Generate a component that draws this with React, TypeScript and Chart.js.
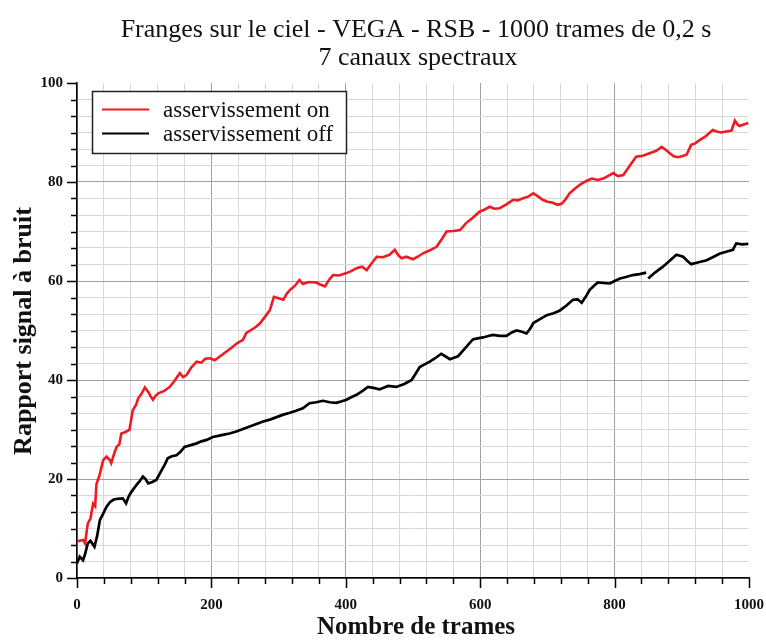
import React, { useEffect, useRef } from 'react';
import { Chart, registerables } from 'chart.js';

Chart.register(...registerables);

const titleLines = ['Franges sur le ciel - VEGA - RSB - 1000 trames de 0,2 s', '7 canaux spectraux'];
const xAxisTitle = 'Nombre de trames';
const yAxisTitle = 'Rapport signal à bruit';
const seriesNames = ['asservissement on', 'asservissement off'];
const seriesColors = ['#f01a22', '#000000'];

const xTickLabels = [0, 200, 400, 600, 800, 1000];
const yTickLabels = [0, 20, 40, 60, 80, 100];
const xMinorPerMajor = 5;
const yMinorPerMajor = 6;

const onFrames = [
  0, 9, 12, 16, 20, 24, 27, 29, 33, 39, 44, 49, 51, 55, 59, 63, 66, 72, 78, 83, 88, 91, 96, 101, 106, 110, 113, 117,
  121, 130, 138, 145, 153, 158, 163, 170, 178, 185, 191, 198, 205, 212, 222, 230, 238, 247, 252, 259, 265, 272, 280,
  287, 293, 300, 307, 312, 317, 324, 331, 336, 345, 356, 362, 369, 375, 381, 390, 401, 408, 416, 424, 431, 438, 446,
  455, 465, 473, 478, 483, 490, 500, 507, 515, 525, 535, 543, 550, 560, 570, 579, 589, 599, 606, 614, 621, 629, 639,
  649, 656, 664, 672, 679, 686, 693, 700, 708, 715, 721, 727, 733, 742, 751, 758, 766, 775, 783, 790, 798, 805, 813,
  822, 832, 842, 852, 862, 870, 876, 882, 888, 894, 900, 907, 914, 920, 927, 936, 946, 952, 959, 966, 974, 979, 983,
  986, 992, 999,
];
const onValues = [
  7.4, 7.7, 7.0, 11, 12, 15, 14.5, 19, 20.5, 23.8, 24.5, 23.8, 23.2, 25, 26.5, 27, 29.2, 29.5, 29.9, 33.9, 35, 36.3,
  37.2, 38.5, 37.6, 36.6, 36, 36.8, 37.3, 37.8, 38.6, 39.8, 41.4, 40.6, 41, 42.5, 43.7, 43.5, 44.3, 44.4, 44, 44.7,
  45.7, 46.5, 47.4, 48.1, 49.5, 50.1, 50.6, 51.4, 52.8, 54.1, 56.8, 56.5, 56.2, 57.4, 58.2, 59, 60.2, 59.4, 59.8,
  59.7, 59.3, 58.9, 60.2, 61.2, 61.1, 61.6, 62, 62.6, 62.9, 62.2, 63.5, 64.9, 64.8, 65.3, 66.3, 65.2, 64.6, 64.9,
  64.4, 64.9, 65.6, 66.2, 66.9, 68.5, 70, 70.1, 70.3, 71.7, 72.8, 74, 74.4, 75, 74.6, 74.7, 75.5, 76.4, 76.3, 76.7,
  77.1, 77.7, 77.1, 76.4, 76.0, 75.8, 75.4, 75.6, 76.5, 77.7, 78.8, 79.7, 80.2, 80.7, 80.4, 80.7, 81.2, 81.8, 81.2,
  81.4, 83.2, 85.1, 85.3, 85.8, 86.3, 87.1, 86.5, 85.8, 85.2, 85, 85.2, 85.5, 87.5, 87.8, 88.5, 89.3, 90.5, 90.2, 90,
  90.2, 90.4, 92.4, 91.6, 91.3, 91.6, 91.9,
];

// null marks the small break visible in the "off" trace
const offFrames = [
  0, 4, 9, 12, 16, 20, 26, 30, 34, 39, 44, 49, 54, 60, 68, 73, 77, 81, 88, 93, 98, 102, 106, 112, 118, 122, 126, 131,
  135, 141, 148, 154, 160, 168, 178, 185, 193, 202, 210, 217, 227, 237, 247, 257, 267, 277, 287, 297, 307, 317, 326,
  336, 346, 356, 366, 376, 386, 394, 401, 408, 416, 425, 433, 441, 450, 463, 475, 487, 498, 505, 510, 518, 525, 533,
  542, 548, 555, 561, 567, 578, 589, 596, 604, 612, 619, 629, 639, 647, 654, 661, 669, 675, 679, 689, 699, 709, 718,
  728, 738, 745, 751, 757, 763, 769, 775, 783, 793, 800, 808, 817, 827, 837, 847, 848, 850, 860, 872, 882, 892, 902,
  908, 914, 925, 937, 946, 956, 966, 976, 981, 990, 999,
];
const offValues = [
  3, 4.3, 3.6, 4.8, 7, 7.5, 6.3, 8.5, 11.7, 13, 14.4, 15.3, 15.8, 16, 16.1, 15.1, 16.5, 17.4, 18.7, 19.5, 20.5, 20,
  19.1, 19.4, 19.8, 20.8, 21.8, 23, 24.2, 24.6, 24.8, 25.5, 26.5, 26.8, 27.2, 27.6, 27.9, 28.5, 28.7, 28.9, 29.2,
  29.6, 30.1, 30.6, 31.1, 31.6, 32, 32.5, 33, 33.4, 33.8, 34.3, 35.3, 35.5, 35.8, 35.5, 35.4, 35.7, 36, 36.5, 37,
  37.8, 38.6, 38.4, 38.1, 38.8, 38.6, 39.2, 40, 41.5, 42.6, 43.2, 43.7, 44.4, 45.3, 44.8, 44.2, 44.5, 44.8, 46.5,
  48.2, 48.4, 48.6, 48.9, 49.1, 48.9, 48.9, 49.6, 50, 49.8, 49.4, 50.5, 51.5, 52.3, 53.1, 53.5, 54, 55, 56.2, 56.3,
  55.6, 56.8, 58.2, 59, 59.7, 59.6, 59.5, 60, 60.5, 60.8, 61.2, 61.4, 61.7, null, 60.5, 61.7, 62.9, 64.1, 65.3, 64.9,
  64.1, 63.4, 63.8, 64.2, 64.8, 65.5, 65.9, 66.3, 67.6, 67.4, 67.5,
];

const isIn = (v: number, arr: number[]) => arr.some((a) => Math.abs(a - v) < 1e-6);

const SERIF = '"Liberation Serif", "Times New Roman", serif';

export default function App() {
  const canvasRef = useRef<HTMLCanvasElement | null>(null);

  useEffect(() => {
    document.body.style.margin = '0';
    const canvas = canvasRef.current;
    if (!canvas) return;

    const xMajorStep = xTickLabels[1] - xTickLabels[0];
    const yMajorStep = yTickLabels[1] - yTickLabels[0];
    const xMin = xTickLabels[0];
    const xMax = xTickLabels[xTickLabels.length - 1];
    const yMin = yTickLabels[0];
    const yMax = yTickLabels[yTickLabels.length - 1];
    const xTickValues: number[] = [];
    for (let i = 0; i <= (xTickLabels.length - 1) * xMinorPerMajor; i++) xTickValues.push(xMin + (i * xMajorStep) / xMinorPerMajor);
    const yTickValues: number[] = [];
    for (let i = 0; i <= (yTickLabels.length - 1) * yMinorPerMajor; i++) yTickValues.push(yMin + (i * yMajorStep) / yMinorPerMajor);

    const gridColor = (labels: number[], max: number) => (ctx: any) => {
      const v = ctx.tick ? ctx.tick.value : null;
      if (v == null) return 'rgba(0,0,0,0)';
      if (Math.abs(v - max) < 1e-6) return 'rgba(0,0,0,0)';
      return isIn(v, labels) ? '#a0a0a0' : '#d8d8d8';
    };

    const decorPlugin = {
      id: 'decor',
      afterDraw(chart: any) {
        const { ctx, chartArea, scales } = chart;
        const xs = scales.x;
        const ys = scales.y;
        ctx.save();
        // tick marks
        ctx.strokeStyle = '#000';
        ctx.lineWidth = 1.5;
        ctx.beginPath();
        for (const t of ys.ticks) {
          const py = Math.round(ys.getPixelForValue(t.value)) + 0.5;
          const len = isIn(t.value, yTickLabels) ? 10 : 6;
          ctx.moveTo(chartArea.left - len, py);
          ctx.lineTo(chartArea.left, py);
        }
        for (const t of xs.ticks) {
          const px = Math.round(xs.getPixelForValue(t.value)) + 0.5;
          const len = isIn(t.value, xTickLabels) ? 10 : 6;
          ctx.moveTo(px, chartArea.bottom);
          ctx.lineTo(px, chartArea.bottom + len);
        }
        ctx.stroke();

        // title
        ctx.fillStyle = '#111';
        ctx.textAlign = 'center';
        ctx.textBaseline = 'alphabetic';
        ctx.font = `26px ${SERIF}`;
        ctx.fillText(titleLines[0], 416, 37);
        ctx.fillText(titleLines[1], 418, 65);

        // axis titles
        ctx.font = `bold 25px ${SERIF}`;
        ctx.fillText(xAxisTitle, 416, 634);
        ctx.save();
        ctx.translate(31, 331);
        ctx.rotate(-Math.PI / 2);
        ctx.font = `bold 26px ${SERIF}`;
        ctx.fillText(yAxisTitle, 0, 0);
        ctx.restore();

        // legend
        const bx = 92.5, by = 91.5, bw = 254, bh = 62;
        ctx.fillStyle = '#fff';
        ctx.fillRect(bx, by, bw, bh);
        ctx.strokeStyle = '#222';
        ctx.lineWidth = 1.5;
        ctx.strokeRect(bx, by, bw, bh);
        const rows = [110, 134];
        ctx.font = `23px ${SERIF}`;
        ctx.textAlign = 'left';
        ctx.textBaseline = 'middle';
        seriesNames.forEach((name, i) => {
          ctx.strokeStyle = seriesColors[i];
          ctx.lineWidth = 2;
          ctx.beginPath();
          ctx.moveTo(102, rows[i] - 0.5);
          ctx.lineTo(149, rows[i] - 0.5);
          ctx.stroke();
          ctx.fillStyle = '#111';
          ctx.fillText(name, 163, rows[i] + 1);
        });
        ctx.restore();
      },
    };

    const chart = new Chart(canvas, {
      type: 'line',
      data: {
        datasets: [
          {
            label: seriesNames[0],
            data: onFrames.map((f, i) => ({ x: f, y: onValues[i] })),
            borderColor: seriesColors[0],
            borderWidth: 2.6,
            pointRadius: 0,
            tension: 0,
            fill: false,
          },
          {
            label: seriesNames[1],
            data: offFrames.map((f, i) => ({ x: f, y: offValues[i] })),
            borderColor: seriesColors[1],
            borderWidth: 2.7,
            pointRadius: 0,
            tension: 0,
            fill: false,
            spanGaps: false,
          },
        ],
      },
      options: {
        animation: false,
        responsive: false,
        devicePixelRatio: 1,
        events: [],
        layout: { padding: { left: 0, top: 83, right: 17, bottom: 0 } },
        plugins: {
          legend: { display: false },
          title: { display: false },
          tooltip: { enabled: false },
        },
        scales: {
          x: {
            type: 'linear',
            min: xMin,
            max: xMax,
            afterBuildTicks: (scale: any) => {
              scale.ticks = xTickValues.map((v) => ({ value: v }));
            },
            afterFit: (scale: any) => {
              scale.height = 63;
              scale.paddingLeft = 0;
              scale.paddingRight = 0;
            },
            grid: { color: gridColor(xTickLabels, xMax), lineWidth: 1, drawTicks: false },
            border: { display: true, color: '#000', width: 1.5 },
            ticks: {
              autoSkip: false,
              maxRotation: 0,
              padding: 18,
              color: '#111',
              font: { family: SERIF, size: 15, weight: 'bold' },
              callback: (v: any) => (isIn(Number(v), xTickLabels) ? String(Math.round(Number(v))) : ''),
            },
          },
          y: {
            type: 'linear',
            min: yMin,
            max: yMax,
            afterBuildTicks: (scale: any) => {
              scale.ticks = yTickValues.map((v) => ({ value: v }));
            },
            afterFit: (scale: any) => {
              scale.width = 77;
            },
            grid: { color: gridColor(yTickLabels, yMax), lineWidth: 1, drawTicks: false },
            border: { display: true, color: '#000', width: 1.5 },
            ticks: {
              autoSkip: false,
              padding: 14,
              color: '#111',
              font: { family: SERIF, size: 15, weight: 'bold' },
              callback: (v: any) => (isIn(Number(v), yTickLabels) ? String(Math.round(Number(v))) : ''),
            },
          },
        },
      },
      plugins: [decorPlugin],
    } as any);

    return () => chart.destroy();
  }, []);

  return (
    <div style={{ width: 766, height: 641, background: '#fff' }}>
      <canvas ref={canvasRef} width={766} height={641} style={{ display: 'block' }} />
    </div>
  );
}
